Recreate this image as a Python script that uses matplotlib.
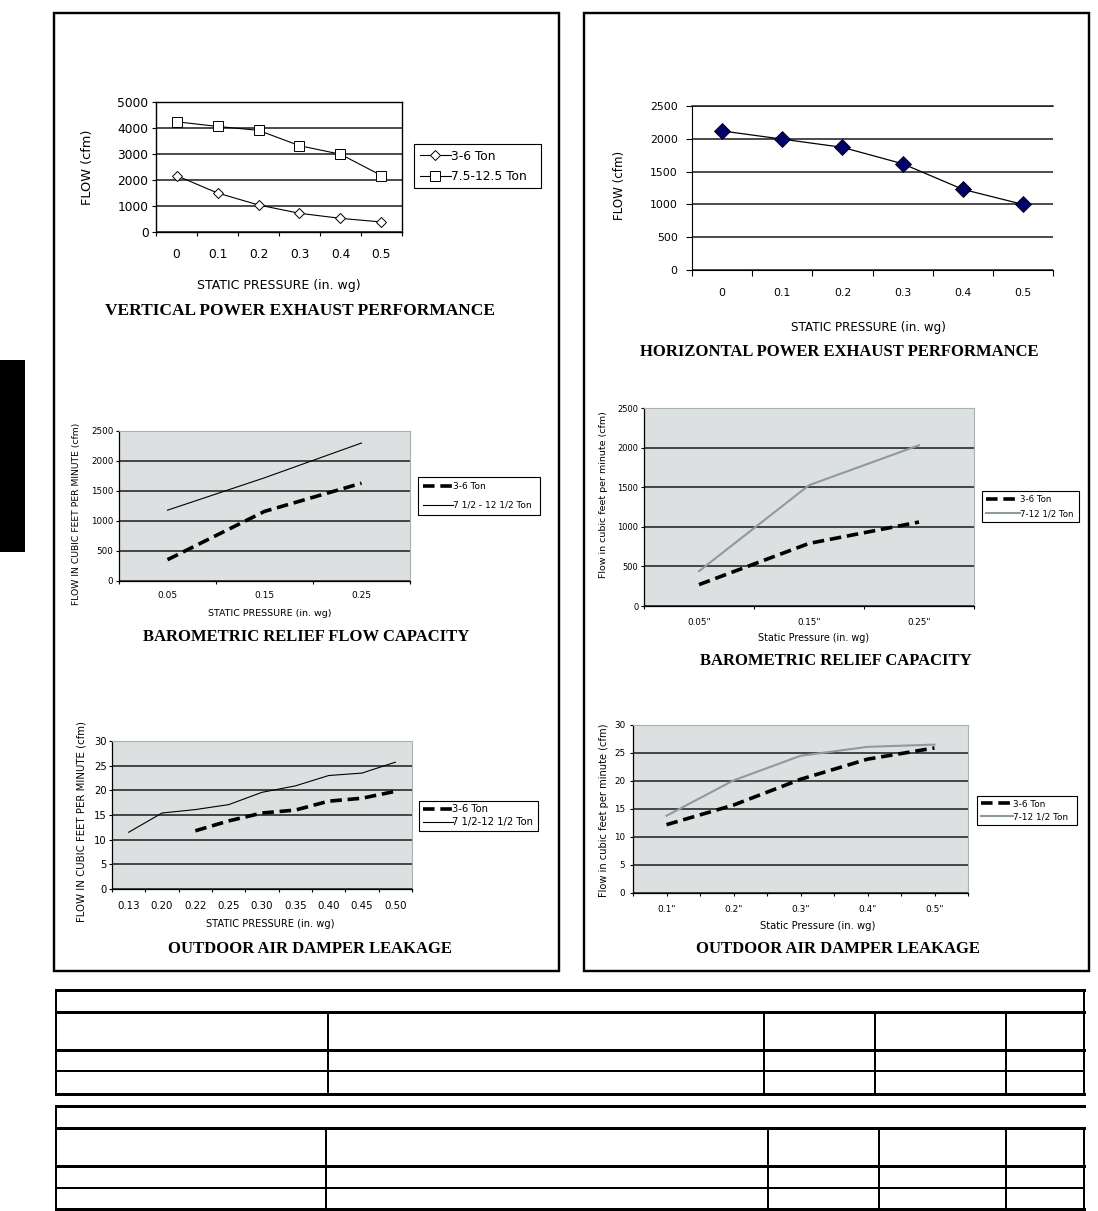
import matplotlib
matplotlib.use('Agg')
import matplotlib.pyplot as plt
import numpy as np
from matplotlib.patches import Rectangle

# ---------------- data ----------------
vp_cats = ['0', '0.1', '0.2', '0.3', '0.4', '0.5']
vp_small = [2170, 1500, 1040, 720, 525, 385]
vp_large = [4240, 4060, 3910, 3320, 2990, 2170]
vp_series = ['3-6 Ton', '7.5-12.5 Ton']

hp_cats = ['0', '0.1', '0.2', '0.3', '0.4', '0.5']
hp_flow = [2120, 1995, 1870, 1620, 1230, 1000]

br_cats = ['0.05', '0.15', '0.25']
br_small = [355, 1160, 1630]
br_large = [1180, 1720, 2300]
br_series = ['3-6 Ton', '7 1/2 - 12 1/2 Ton']

brr_cats = ['0.05"', '0.15"', '0.25"']
brr_small = [270, 790, 1060]
brr_large = [440, 1525, 2030]
brr_series = ['3-6 Ton', '7-12 1/2 Ton']

od_cats = ['0.13', '0.20', '0.22', '0.25', '0.30', '0.35', '0.40', '0.45', '0.50']
od_small = [np.nan, np.nan, 11.8, 13.8, 15.4, 16.0, 17.8, 18.4, 19.8]
od_large = [11.5, 15.4, 16.1, 17.1, 19.6, 20.9, 23.0, 23.5, 25.7]
od_series = ['3-6 Ton', '7 1/2-12 1/2 Ton']

odr_x = [0.1, 0.2, 0.3, 0.4, 0.5]
odr_small = [12.2, 15.7, 20.3, 23.9, 25.9]
odr_large = [13.8, 20.1, 24.5, 26.1, 26.5]
odr_ticks = [0.05, 0.10, 0.15, 0.20, 0.25, 0.30, 0.35, 0.40, 0.45, 0.50, 0.55]
odr_ticklabels = ['', '0.1"', '', '0.2"', '', '0.3"', '', '0.4"', '', '0.5"', '']
odr_series = ['3-6 Ton', '7-12 1/2 Ton']

# ---------------- setup ----------------
W, H = 1098, 1211
fig = plt.figure(figsize=(W / 100, H / 100), dpi=100)
SANS = ['DejaVu Sans']
SERIF = ['Liberation Serif', 'DejaVu Serif']
PX = 0.72  # points per pixel

GRAY_BG = '#dde0e0'
GRAY_EDGE = '#a9b1b1'
GRAY_LINE = '#8d9b9b'


def add_ax(x0, y0, x1, y1):
    return fig.add_axes([x0 / W, 1 - y1 / H, (x1 - x0) / W, (y1 - y0) / H])


def ftext(x, y, s, size, rot=0, serif=False, bold=False):
    fig.text(x / W, 1 - y / H, s, ha='center', va='center', rotation=rot,
             fontsize=size, family=SERIF if serif else SANS,
             fontweight='bold' if bold else 'normal', color='black')


def cat_axis(ax, labels, fs, pad, ticklen):
    n = len(labels)
    ax.set_xlim(-0.5, n - 0.5)
    ax.set_xticks(np.arange(n))
    ax.set_xticklabels(labels, family=SANS)
    ax.tick_params(axis='x', which='major', length=0, labelsize=fs, pad=pad + ticklen * PX)
    ax.set_xticks(np.arange(n + 1) - 0.5, minor=True)
    ax.tick_params(axis='x', which='minor', length=ticklen * PX, width=0.8, direction='out')


def y_axis(ax, lo, hi, step, fs, pad, ticklen):
    ax.set_ylim(lo, hi)
    ticks = np.arange(lo, hi + step / 2, step)
    ax.set_yticks(ticks)
    ax.set_yticklabels([f'{t:g}' for t in ticks], family=SANS)
    ax.tick_params(axis='y', length=ticklen * PX, width=0.8, direction='out', labelsize=fs, pad=pad)
    ax.set_axisbelow(True)
    ax.yaxis.grid(True, color='#1a1a1a', lw=1.1)


def gray_style(ax):
    ax.set_facecolor(GRAY_BG)
    for s in ('top', 'right'):
        ax.spines[s].set_color(GRAY_EDGE)
        ax.spines[s].set_linewidth(0.8)
    for s in ('left', 'bottom'):
        ax.spines[s].set_color('black')
        ax.spines[s].set_linewidth(0.9)


def legend(ax, box, fs, hl, spacing=0.35, bpad=0.35):
    x0, y0, x1, y1 = box
    lg = ax.legend(loc='upper left', bbox_to_anchor=(x0 / W, 1 - y1 / H, (x1 - x0) / W, (y1 - y0) / H),
                   bbox_transform=fig.transFigure, mode='expand', borderaxespad=0,
                   frameon=True, fancybox=False, edgecolor='black', framealpha=1,
                   prop={'family': SANS, 'size': fs}, handlelength=hl, handletextpad=0.0,
                   borderpad=bpad, labelspacing=spacing, numpoints=1)
    lg.get_frame().set_linewidth(0.8)
    return lg


DASH = dict(color='black', lw=2.6, dashes=(3.2, 1.6), solid_capstyle='butt', dash_capstyle='butt')

# ---------------- page frame, tab, tables ----------------
ov = fig.add_axes([0, 0, 1, 1], zorder=-5)
ov.set_xlim(0, W)
ov.set_ylim(H, 0)
ov.axis('off')
ov.add_patch(Rectangle((54, 13), 505, 958, fill=False, lw=2.4 * PX, ec='black'))
ov.add_patch(Rectangle((584, 13), 505, 958, fill=False, lw=2.4 * PX, ec='black'))
ov.add_patch(Rectangle((0, 360), 25, 192, fc='black', ec='none'))

THK, THN = 3.0 * PX, 2.0 * PX
# table 1
ov.plot([56, 1084], [990, 990], color='k', lw=THK)
for yy in (1012, 1050):
    ov.plot([56, 1084], [yy, yy], color='k', lw=THK)
ov.plot([56, 1084], [1071, 1071], color='k', lw=THN)
ov.plot([56, 1084], [1094, 1094], color='k', lw=THK)
ov.plot([56, 56], [990, 1094], color='k', lw=THN)
ov.plot([1084, 1084], [990, 1094], color='k', lw=THN)
for xx in (328, 764, 875, 1006):
    ov.plot([xx, xx], [1012, 1094], color='k', lw=THN)
# table 2
ov.plot([56, 1084], [1106, 1106], color='k', lw=THK)
for yy in (1128, 1166):
    ov.plot([56, 1084], [yy, yy], color='k', lw=THK)
ov.plot([56, 1084], [1188, 1188], color='k', lw=THN)
ov.plot([56, 1084], [1209, 1209], color='k', lw=THK)
ov.plot([56, 56], [1106, 1210], color='k', lw=THN)
ov.plot([1084, 1084], [1128, 1210], color='k', lw=THN)
for xx in (326, 768, 879, 1006):
    ov.plot([xx, xx], [1128, 1210], color='k', lw=THN)

# ---------------- chart 1: vertical power exhaust ----------------
ax = add_ax(156, 102, 402, 232)
xi = np.arange(len(vp_cats))
ax.plot(xi, vp_small, color='black', lw=0.8, marker='D', ms=5.5, mfc='white', mec='black', mew=0.7, label=vp_series[0])
ax.plot(xi, vp_large, color='black', lw=0.8, marker='s', ms=7, mfc='white', mec='black', mew=0.7, label=vp_series[1])
cat_axis(ax, vp_cats, 8.8, 8.8, 4)
y_axis(ax, 0, 5000, 1000, 8.8, 2.5, 4)
for s in ax.spines.values():
    s.set_linewidth(1.0)
legend(ax, (414, 144, 541, 190), 8.8, 2.6, spacing=0.6, bpad=0.45)
ftext(88, 167, 'FLOW (cfm)', 9.3, rot=90)
ftext(279, 285, 'STATIC PRESSURE (in. wg)', 9.0)
ftext(300, 311, 'VERTICAL POWER EXHAUST PERFORMANCE', 12.5, serif=True, bold=True)

# ---------------- chart 2: horizontal power exhaust ----------------
ax = add_ax(692, 106, 1053, 270)
xi = np.arange(len(hp_cats))
ax.plot(xi, hp_flow, color='black', lw=0.9, marker='D', ms=8, mfc='#000066', mec='black', mew=0.6)
cat_axis(ax, hp_cats, 7.8, 8.6, 6)
y_axis(ax, 0, 2500, 500, 7.8, 6.0, 6)
ax.spines['top'].set_visible(False)
ax.spines['right'].set_visible(False)
ax.plot([-0.5, len(hp_cats) - 0.5], [2500, 2500], color='#1a1a1a', lw=1.1, clip_on=False)
ftext(620, 185, 'FLOW (cfm)', 8.6, rot=90)
ftext(868, 327, 'STATIC PRESSURE (in. wg)', 8.6)
ftext(839, 352, 'HORIZONTAL POWER EXHAUST PERFORMANCE', 12, serif=True, bold=True)

# ---------------- chart 3: barometric relief flow capacity ----------------
ax = add_ax(119, 431, 410, 581)
gray_style(ax)
xi = np.arange(len(br_cats))
ax.plot(xi, br_small, label=br_series[0], **DASH)
ax.plot(xi, br_large, color='black', lw=0.8, label=br_series[1])
cat_axis(ax, br_cats, 6.5, 5.2, 3)
y_axis(ax, 0, 2500, 500, 6.3, 1.8, 3)
legend(ax, (418, 477, 540, 518), 6.5, 3.3, spacing=1.05, bpad=0.6)
ftext(76, 514, 'FLOW IN CUBIC FEET PER MINUTE (cfm)', 6.7, rot=90)
ftext(270, 613, 'STATIC PRESSURE (in. wg)', 6.8)
ftext(306, 637, 'BAROMETRIC RELIEF FLOW CAPACITY', 12, serif=True, bold=True)

# ---------------- chart 4: barometric relief capacity ----------------
ax = add_ax(644, 408, 974, 606)
gray_style(ax)
xi = np.arange(len(brr_cats))
ax.plot(xi, brr_small, label=brr_series[0], **DASH)
ax.plot(xi, brr_large, color=GRAY_LINE, lw=1.5, label=brr_series[1])
cat_axis(ax, brr_cats, 6.3, 6.2, 3)
y_axis(ax, 0, 2500, 500, 6.0, 1.8, 3)
legend(ax, (982, 491, 1079, 523), 6.2, 4.0, spacing=0.65, bpad=0.45)
ftext(604, 495, 'Flow in cubic feet per minute (cfm)', 6.8, rot=90)
ftext(814, 638, 'Static Pressure (in. wg)', 6.9)
ftext(836, 661, 'BAROMETRIC RELIEF CAPACITY', 12, serif=True, bold=True)

# ---------------- chart 5: outdoor air damper leakage ----------------
ax = add_ax(112, 741, 412, 889)
gray_style(ax)
xi = np.arange(len(od_cats))
ax.plot(xi, od_small, label=od_series[0], **DASH)
ax.plot(xi, od_large, color='black', lw=0.8, label=od_series[1])
cat_axis(ax, od_cats, 7.4, 6.2, 3)
y_axis(ax, 0, 30, 5, 7.2, 1.5, 3)
legend(ax, (419, 801, 538, 830), 7.2, 3.0, spacing=0.25)
ftext(82, 822, 'FLOW IN CUBIC FEET PER MINUTE (cfm)', 7.3, rot=90)
ftext(270, 924, 'STATIC PRESSURE (in. wg)', 7.1)
ftext(310, 949, 'OUTDOOR AIR DAMPER LEAKAGE', 12, serif=True, bold=True)

# ---------------- chart 6: outdoor air damper leakage (right) ----------------
ax = add_ax(633, 725, 968, 893)
gray_style(ax)
ax.plot(odr_x, odr_small, label=odr_series[0], **DASH)
ax.plot(odr_x, odr_large, color=GRAY_LINE, lw=1.5, label=odr_series[1])
ax.set_xlim(odr_ticks[0], odr_ticks[-1])
ax.set_xticks(odr_ticks)
ax.set_xticklabels(odr_ticklabels, family=SANS)
ax.tick_params(axis='x', length=3 * PX, width=0.8, direction='out', labelsize=6.5, pad=6.2)
y_axis(ax, 0, 30, 5, 6.3, 3.4, 3)
legend(ax, (977, 796, 1077, 826), 6.4, 3.6, spacing=0.45, bpad=0.4)
ftext(604, 810, 'Flow in cubic feet per minute (cfm)', 7.1, rot=90)
ftext(818, 926, 'Static Pressure (in. wg)', 7.2)
ftext(838, 949, 'OUTDOOR AIR DAMPER LEAKAGE', 12, serif=True, bold=True)

fig.savefig('out.png', dpi=100)
